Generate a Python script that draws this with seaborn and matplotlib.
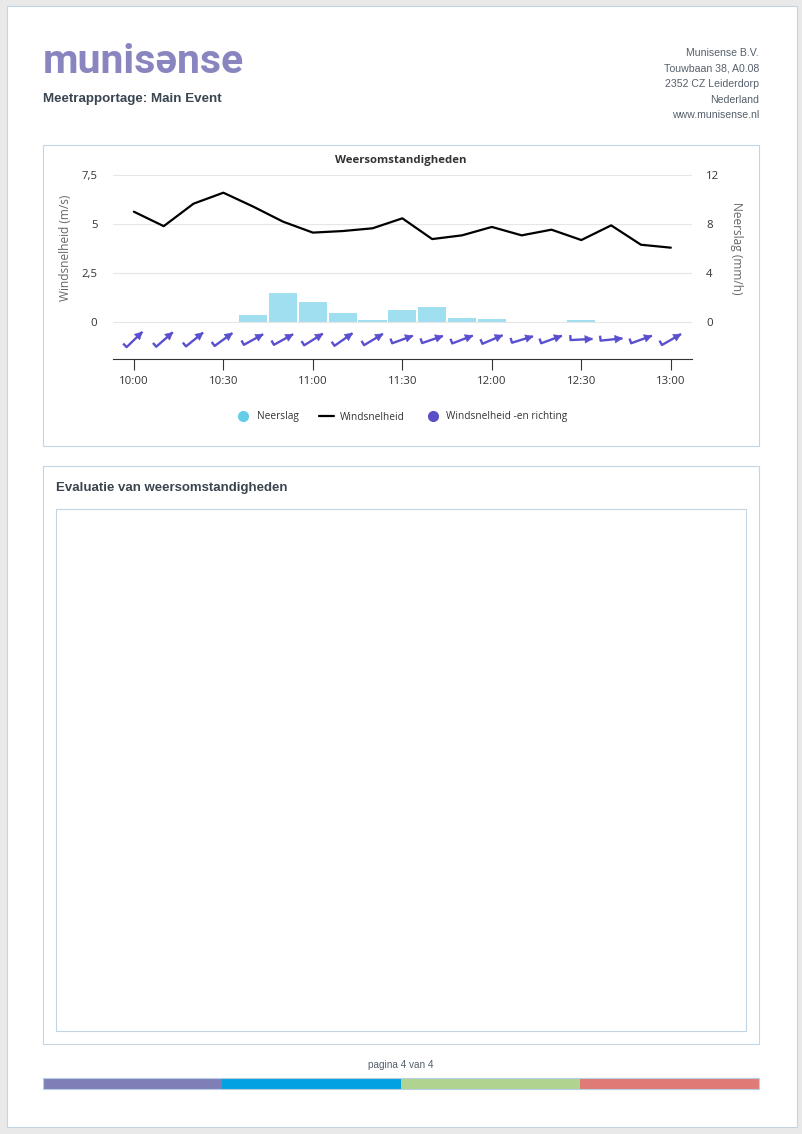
import matplotlib
matplotlib.use('Agg')
import numpy as np
import pandas as pd
import matplotlib.pyplot as plt
import seaborn as sns
from matplotlib.patches import Rectangle
from matplotlib.path import Path
from matplotlib.markers import MarkerStyle
from matplotlib.transforms import Affine2D
from matplotlib.lines import Line2D

# meetwaarden (elke 10 minuten)
tijden = ['10:00', '10:10', '10:20', '10:30', '10:40', '10:50', '11:00', '11:10', '11:20', '11:30',
          '11:40', '11:50', '12:00', '12:10', '12:20', '12:30', '12:40', '12:50', '13:00']
windsnelheid = [5.64, 4.90, 6.05, 6.61, 5.90, 5.13, 4.57, 4.65, 4.79, 5.30,
                4.24, 4.43, 4.86, 4.43, 4.72, 4.19, 4.94, 3.95, 3.80]
neerslag = [0, 0, 0, 0, 0.57, 2.40, 1.66, 0.74, 0.16, 0.98,
            1.23, 0.33, 0.25, 0, 0, 0.16, 0, 0, 0]
# windrichting (graden, waar de wind vandaan komt)
windrichting = [226, 229, 231, 234, 241, 241, 238, 235, 239, 250,
                251, 249, 247, 253, 250, 267, 264, 250, 240]

x_ticks = ['10:00', '10:30', '11:00', '11:30', '12:00', '12:30', '13:00']
wind_ticks = [0, 2.5, 5, 7.5]
wind_labels = ['0', '2,5', '5', '7,5']
regen_ticks = [0, 4, 8, 12]
regen_labels = ['0', '4', '8', '12']

adres = ['Munisense B.V.', 'Touwbaan 38, A0.08', '2352 CZ Leiderdorp', 'Nederland', 'www.munisense.nl']
balk_kleuren = ['#7f7fb8', '#00a3e0', '#b0d490', '#df7a76']


def naar_minuten(t):
    u, m = t.split(':')
    return (int(u) - 10) * 60 + int(m)


df = pd.DataFrame({'minuut': [naar_minuten(t) for t in tijden],
                   'wind': windsnelheid, 'regen': neerslag, 'richting': windrichting})

sns.set_theme(style='white')
plt.rcParams['font.family'] = ['Open Sans', 'DejaVu Sans']

W, H = 803, 1134
fig = plt.figure(figsize=(W / 100, H / 100), dpi=100, facecolor='#e9e9e9')


def fx(x):
    return x / W


def fy(y):
    return 1 - y / H


def kader(x0, y0, x1, y1, fc='none', ec='#c3d5e3', lw=0.8, z=-5):
    fig.add_artist(Rectangle((fx(x0), fy(y1)), (x1 - x0) / W, (y1 - y0) / H,
                             transform=fig.transFigure, facecolor=fc, edgecolor=ec,
                             linewidth=lw, zorder=z))


# pagina
kader(7, 6, 797, 1127, fc='white', z=-10)
kader(43, 145, 759, 446)
kader(43, 466, 759, 1044)
kader(56, 509, 746, 1031)

# kop
fig.text(fx(42.5), fy(73), 'munisənse', fontsize=29.5, fontweight='bold', color='#8985bf',
         family=['Roboto', 'DejaVu Sans'], va='baseline', ha='left')
fig.text(fx(43), fy(102), 'Meetrapportage: Main Event', fontsize=9.65, fontweight='bold',
         color='#3a4550', family='Liberation Sans', va='baseline')
for i, regel in enumerate(adres):
    fig.text(fx(759), fy(56 + i * 15.6), regel, fontsize=7.6, color='#56606b',
             family='Liberation Sans', ha='right', va='baseline')

# grafiek
ax = fig.add_axes([fx(112.7), fy(359.3), (691.7 - 112.7) / W, (359.3 - 175.3) / H])
ax2 = ax.twinx()
ax.set_zorder(2)
ax.patch.set_visible(False)
ax2.set_zorder(1)

sns.barplot(data=df, x='minuut', y='regen', ax=ax2, native_scale=True, color='#a0dff0',
            saturation=1, width=0.94, errorbar=None, linewidth=0)
sns.lineplot(data=df, x='minuut', y='wind', ax=ax, color='black', linewidth=1.6)

# windpijlen
lijn_pad = Path([(-11, 5), (-11, 0), (11, 0)], [Path.MOVETO, Path.LINETO, Path.LINETO])
kop_pad = Path([(11, 0), (3.5, 3.8), (3.5, -3.8), (11, 0)],
               [Path.MOVETO, Path.LINETO, Path.LINETO, Path.CLOSEPOLY])
pijl_kleur = '#5a4fcf'
for m, r in zip(df['minuut'], df['richting']):
    hoek = 270 - r
    rot = Affine2D().rotate_deg(hoek)
    ax.plot(m, -0.87, marker=MarkerStyle(lijn_pad, fillstyle='none', transform=rot),
            markersize=15.8, markeredgewidth=1.7, color=pijl_kleur, linestyle='none')
    ax.plot(m, -0.87, marker=MarkerStyle(kop_pad, transform=rot),
            markersize=15.8, markeredgewidth=0.4, color=pijl_kleur, linestyle='none')

ax.set_xlim(-7.1, 187)
ax.set_ylim(-1.907, 7.5)
ax2.set_ylim(-1.907 * 1.6, 12)

ax.set_xticks([naar_minuten(t) for t in x_ticks])
ax.set_xticklabels(x_ticks)
ax.set_yticks(wind_ticks)
ax.set_yticklabels(wind_labels)
ax2.set_yticks(regen_ticks)
ax2.set_yticklabels(regen_labels)

ax.grid(axis='y', color='#e6e6e6', linewidth=0.8)
ax.grid(axis='x', visible=False)
ax2.grid(False)
for a in (ax, ax2):
    for s in ('top', 'left', 'right', 'bottom'):
        a.spines[s].set_visible(False)
ax.spines['bottom'].set_visible(True)
ax.spines['bottom'].set_color('#333333')
ax.spines['bottom'].set_linewidth(0.8)

ax.tick_params(axis='x', bottom=True, length=7.7, width=0.8, color='#333333', pad=4,
               labelsize=8.2, labelcolor='#333333')
ax.tick_params(axis='y', left=False, length=0, pad=11, labelsize=8.2, labelcolor='#333333')
ax2.tick_params(axis='y', right=False, length=0, pad=10.5, labelsize=8.2, labelcolor='#333333')
ax.set_xlabel('')
ax.set_ylabel('Windsnelheid (m/s)', fontsize=8.6, color='#666666', va='center')
ax.yaxis.set_label_coords((66 - 112.7) / 579, (359.3 - 248) / 184)
ax2.set_ylabel('Neerslag (mm/h)', fontsize=8.6, color='#666666', rotation=270, va='center')
ax2.yaxis.set_label_coords((736 - 112.7) / 579, (359.3 - 248) / 184)

fig.text(fx(401), fy(160), 'Weersomstandigheden', fontsize=8.2, fontweight='bold',
         color='#333333', ha='center', va='center')

handles = [Line2D([], [], marker='o', linestyle='none', markersize=7, color='#66cde8'),
           Line2D([], [], color='black', linewidth=1.6),
           Line2D([], [], marker='o', linestyle='none', markersize=7, color='#5b4fc7')]
fig.legend(handles, ['Neerslag', 'Windsnelheid', 'Windsnelheid -en richting'],
           loc='center', bbox_to_anchor=(fx(401.5), fy(417)), ncol=3, frameon=False,
           fontsize=7.3, handlelength=1.5, handletextpad=0.6, columnspacing=2.0,
           labelcolor='#333333')

# evaluatie
fig.text(fx(56), fy(488), 'Evaluatie van weersomstandigheden', fontsize=9.5, fontweight='bold',
         color='#3a4550', family='Liberation Sans', va='center')

# voettekst
fig.text(fx(401), fy(1065), 'pagina 4 van 4', fontsize=7.2, color='#56606b',
         family='Liberation Sans', ha='center', va='center')
breedte = (759 - 43) / len(balk_kleuren)
for i, kleur in enumerate(balk_kleuren):
    kader(43 + i * breedte, 1078, 43 + (i + 1) * breedte, 1089, fc=kleur, ec=kleur, lw=0)
kader(43, 1078, 759, 1089, ec='#b8cfe0', lw=0.8, z=-4)

fig.savefig('out.png', dpi=100, facecolor=fig.get_facecolor())
